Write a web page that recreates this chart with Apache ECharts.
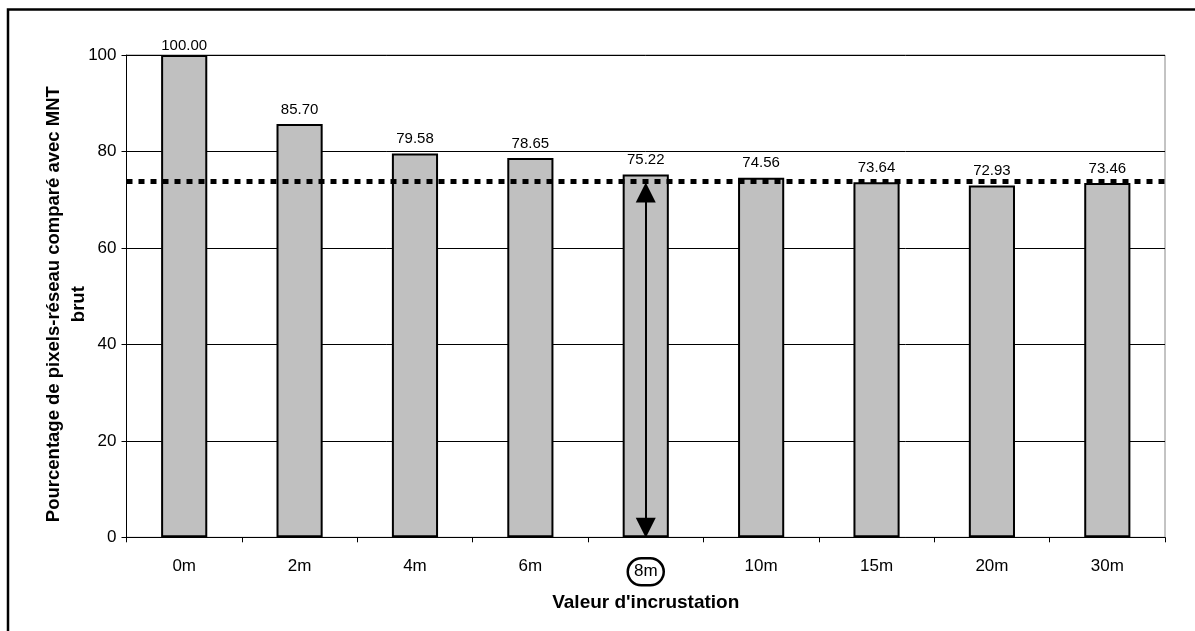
<!DOCTYPE html>
<html>
<head>
<meta charset="utf-8">
<script src="https://cdn.jsdelivr.net/npm/echarts@6/dist/echarts.min.js"></script>
<style>
html,body{margin:0;padding:0;background:#fff;}
#chart{width:1195px;height:631px;}
</style>
</head>
<body>
<div id="chart"></div>
<script>
var categories = ['0m', '2m', '4m', '6m', '8m', '10m', '15m', '20m', '30m'];
var values = [100.00, 85.70, 79.58, 78.65, 75.22, 74.56, 73.64, 72.93, 73.46];
var yTicks = [0, 20, 40, 60, 80, 100];
var referenceLevel = 73.9;
var highlightCategory = '8m';
var arrowTop = 71.5;
var arrowBottom = 2;

var FONT = "'Liberation Sans', Arial, sans-serif";
var chart = echarts.init(document.getElementById('chart'), null, {renderer: 'canvas'});

var barData = values.map(function (v, i) {
  var item = {value: v};
  if (v >= yTicks[yTicks.length - 1]) {
    item.label = {distance: 2};
  }
  return item;
});

var option = {
  backgroundColor: '#fff',
  animation: false,
  grid: {
    left: 126.5, right: 30, top: 55, bottom: 93.7,
    show: true, borderColor: '#888', borderWidth: 1, backgroundColor: '#fff'
  },
  xAxis: {
    type: 'category',
    data: categories,
    boundaryGap: true,
    name: "Valeur d'incrustation",
    nameLocation: 'middle',
    nameGap: 56,
    nameMoveOverlap: false,
    nameTextStyle: {fontFamily: FONT, fontWeight: 'bold', fontSize: 19, color: '#000'},
    axisLine: {lineStyle: {color: '#000', width: 1}},
    axisTick: {show: true, length: 5, lineStyle: {color: '#000'}},
    axisLabel: {
      fontFamily: FONT, fontSize: 17, color: '#000', margin: 21,
      formatter: function (v) { return v === highlightCategory ? '{c|' + v + '}' : v; },
      rich: {
        c: {
          fontFamily: FONT, fontSize: 17, color: '#000',
          borderColor: '#000', borderWidth: 2.5, borderRadius: 15,
          width: 36, height: 27, align: 'center', verticalAlign: 'middle'
        }
      }
    },
    splitLine: {show: false}
  },
  yAxis: {
    type: 'value',
    min: yTicks[0],
    max: yTicks[yTicks.length - 1],
    interval: yTicks[1] - yTicks[0],
    name: 'Pourcentage de pixels-réseau comparé avec MNT\nbrut',
    nameLocation: 'middle',
    nameGap: 35,
    nameMoveOverlap: false,
    nameTextStyle: {fontFamily: FONT, fontWeight: 'bold', fontSize: 18.5, color: '#000', lineHeight: 25, align: 'center', padding: [0, 16, 0, 0]},
    axisLine: {show: true, lineStyle: {color: '#000', width: 1}},
    axisTick: {show: true, length: 5, lineStyle: {color: '#000'}},
    axisLabel: {fontFamily: FONT, fontSize: 17, color: '#000', margin: 10},
    splitLine: {show: true, lineStyle: {color: '#000', width: 1}}
  },
  series: [{
    type: 'bar',
    data: barData,
    barWidth: '40%',
    itemStyle: {color: '#c0c0c0', borderColor: '#000', borderWidth: 2},
    label: {
      show: true, position: 'top', distance: 7,
      fontFamily: FONT, fontSize: 15, color: '#000',
      formatter: function (p) { return p.value.toFixed(2); }
    },
    markLine: {
      silent: true,
      animation: false,
      label: {show: false},
      data: [
        [{coord: [highlightCategory, arrowTop], symbol: 'triangle', symbolSize: [20, 20]},
         {coord: [highlightCategory, arrowBottom], symbol: 'triangle', symbolSize: [20, 20]}],
        [{yAxis: referenceLevel, x: 126.5, symbol: 'none'}, {yAxis: referenceLevel, x: 1165, symbol: 'none',
          lineStyle: {type: [6, 6], width: 5, color: '#000', cap: 'butt'}}]
      ],
      lineStyle: {color: '#000', width: 2, type: 'solid'}
    }
  }],
  graphic: [{
    type: 'rect',
    shape: {x: 8, y: 9.5, width: 1400, height: 800},
    style: {fill: null, stroke: '#000', lineWidth: 2.5},
    silent: true,
    z: 100
  }]
};
chart.setOption(option);
</script>
</body>
</html>
